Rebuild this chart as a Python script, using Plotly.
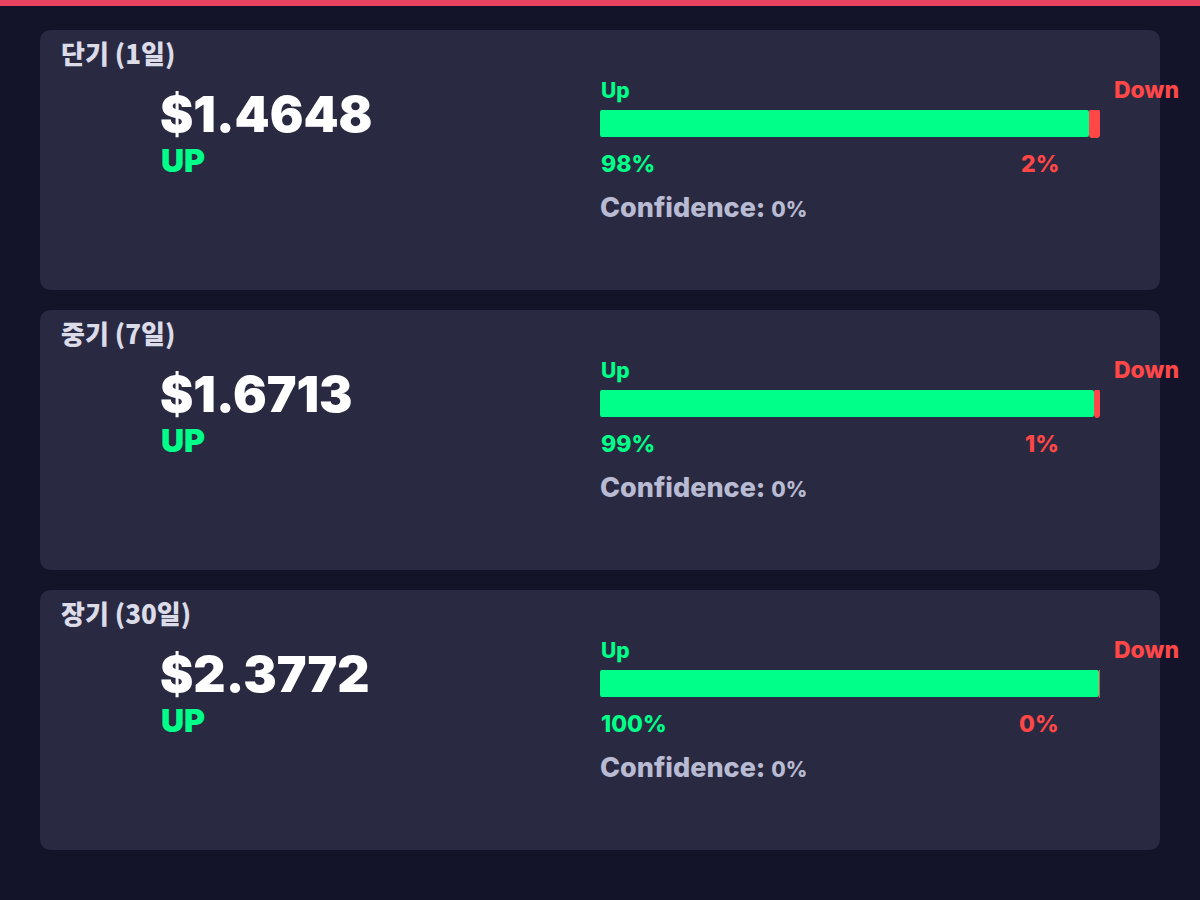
import plotly.graph_objects as go

# ---- data ----
horizons = ["단기 (1일)", "중기 (7일)", "장기 (30일)"]
prices = ["$1.4648", "$1.6713", "$2.3772"]
directions = ["UP", "UP", "UP"]
up_pct = [98, 99, 100]
down_pct = [2, 1, 0]
confidence = [0, 0, 0]

BG = "#13142a"
CARD = "#292a42"
GREEN = "#00ff88"
RED = "#ff4747"
TOPBAR = "#e8445f"
TITLE_C = "#dcdce8"
CONF_C = "#b9bbd2"
FONT = "Inter, Noto Sans CJK KR, sans-serif"
KFONT = "Noto Sans CJK KR, Inter, sans-serif"

W, H = 1200, 900
fig = go.Figure()

shapes = [dict(type="rect", xref="x", yref="y", x0=0, x1=W, y0=0, y1=6,
               fillcolor=TOPBAR, line=dict(width=0), layer="below")]
annotations = []

def rounded_rect(x0, y0, x1, y1, r):
    return (f"M{x0+r},{y0} L{x1-r},{y0} Q{x1},{y0} {x1},{y0+r} "
            f"L{x1},{y1-r} Q{x1},{y1} {x1-r},{y1} L{x0+r},{y1} "
            f"Q{x0},{y1} {x0},{y1-r} L{x0},{y0+r} Q{x0},{y0} {x0+r},{y0} Z")

def ann(x, y, text, size, color, anchor="left", family=FONT, weight=800):
    return dict(x=x, y=y, text=text, font=dict(family=family, size=size, color=color, weight=weight),
                xanchor=anchor, yanchor="middle", showarrow=False, xref="x", yref="y")

layout_axes = {}
for i in range(len(horizons)):
    top = 30 + 280 * i
    shapes.append(dict(type="path", xref="x", yref="y",
                       path=rounded_rect(40, top, 1160, top + 260, 12),
                       fillcolor=CARD, line=dict(width=0), layer="below"))
    annotations += [
        ann(59, top + 22, horizons[i], 26, TITLE_C, family=KFONT, weight=900),
        ann(158, top + 84, prices[i], 50, "#ffffff", weight=900),
        ann(159, top + 130, directions[i], 32, GREEN if directions[i] == "UP" else RED, weight=900),
        ann(599, top + 60, "Up", 21, GREEN),
        ann(1181, top + 60, "Down", 23, RED, anchor="right"),
        ann(599, top + 134, f"{up_pct[i]}%", 23, GREEN),
        ann(1061, top + 134, f"{down_pct[i]}%", 23, RED, anchor="right"),
        ann(598, top + 177,
            f"Confidence: <span style='font-size:21px'>{confidence[i]}%</span>", 27, CONF_C),
    ]
    n = i + 2
    xa, ya = f"x{n}", f"y{n}"
    bar_top, bar_bot = top + 80, top + 108
    layout_axes[f"xaxis{n}"] = dict(domain=[600 / W, 1100 / W], range=[0, 100], visible=False,
                                    fixedrange=True, anchor=ya)
    layout_axes[f"yaxis{n}"] = dict(domain=[1 - bar_bot / H, 1 - bar_top / H], range=[-0.5, 0.5],
                                    visible=False, fixedrange=True, anchor=xa)
    fig.add_trace(go.Bar(x=[up_pct[i]], y=[0], base=[0], orientation="h", width=1,
                         marker=dict(color=GREEN, cornerradius=3, line=dict(width=1, color=CARD)),
                         xaxis=xa, yaxis=ya, hoverinfo="skip", showlegend=False))
    fig.add_trace(go.Bar(x=[down_pct[i]], y=[0], base=[up_pct[i]], orientation="h", width=1,
                         marker=dict(color=RED, cornerradius=3, line=dict(width=1, color=RED)),
                         xaxis=xa, yaxis=ya, hoverinfo="skip", showlegend=False))

fig.update_layout(
    width=W, height=H,
    margin=dict(l=0, r=0, t=0, b=0),
    paper_bgcolor=BG, plot_bgcolor="rgba(0,0,0,0)",
    xaxis=dict(range=[0, W], visible=False, fixedrange=True, domain=[0, 1]),
    yaxis=dict(range=[H, 0], visible=False, fixedrange=True, domain=[0, 1]),
    shapes=shapes, annotations=annotations,
    barmode="overlay", bargap=0,
    **layout_axes,
)

fig.write_html("out.html", config={"displayModeBar": False},
               post_script="document.body.style.margin='0';document.body.style.background='" + BG + "';")
